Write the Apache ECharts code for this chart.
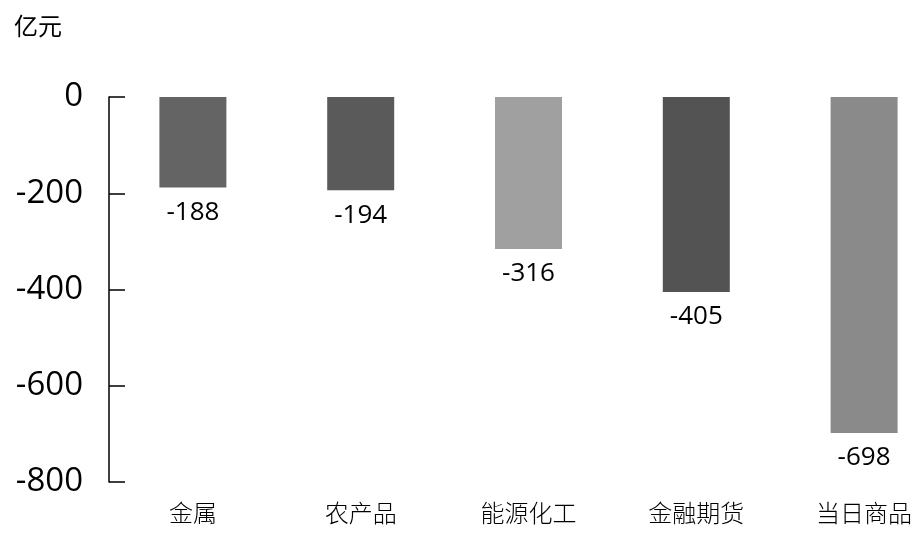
<!DOCTYPE html>
<html><head><meta charset="utf-8">
<script src="https://cdn.jsdelivr.net/npm/echarts@6/dist/echarts.min.js"></script>
<style>html,body{margin:0;padding:0;background:#fff;overflow:hidden;width:923px;height:534px}#c{width:948px;height:534px}</style>
</head><body><div id="c"></div>
<script>
const categories = ['金属', '农产品', '能源化工', '金融期货', '当日商品'];
const values = [-188, -194, -316, -405, -698];
const barColors = ['#646464', '#5a5a5a', '#a0a0a0', '#535353', '#8a8a8a'];
const unitLabel = '亿元';

const chart = echarts.init(document.getElementById('c'));
chart.setOption({
  animation: false,
  backgroundColor: '#fff',
  title: {
    text: unitLabel, left: 9, top: 9,
    textStyle: {fontFamily: 'Noto Sans CJK SC', fontWeight: 'normal', fontSize: 24, color: '#000'}
  },
  grid: {left: 109, right: 0, top: 97, bottom: 52, containLabel: false},
  xAxis: {
    type: 'category', data: categories, position: 'bottom',
    axisLine: {show: false, onZero: false}, axisTick: {show: false},
    axisLabel: {margin: 19, color: '#000', fontSize: 24, fontFamily: 'Noto Sans CJK SC', fontWeight: 300}
  },
  yAxis: {
    type: 'value', min: -800, max: 0, interval: 200,
    axisLine: {show: true, lineStyle: {color: '#000', width: 1.5}},
    axisTick: {show: true, inside: true, length: 16, lineStyle: {color: '#000', width: 1.5}},
    splitLine: {show: false},
    axisLabel: {margin: 26, color: '#000', fontSize: 33, fontFamily: 'Open Sans'}
  },
  series: [{
    type: 'bar', barWidth: 67,
    data: values.map((v, i) => ({value: v, itemStyle: {color: barColors[i]}})),
    label: {show: true, position: 'bottom', distance: 12, color: '#000', fontSize: 26, fontFamily: 'Open Sans'}
  }]
});
</script></body></html>
